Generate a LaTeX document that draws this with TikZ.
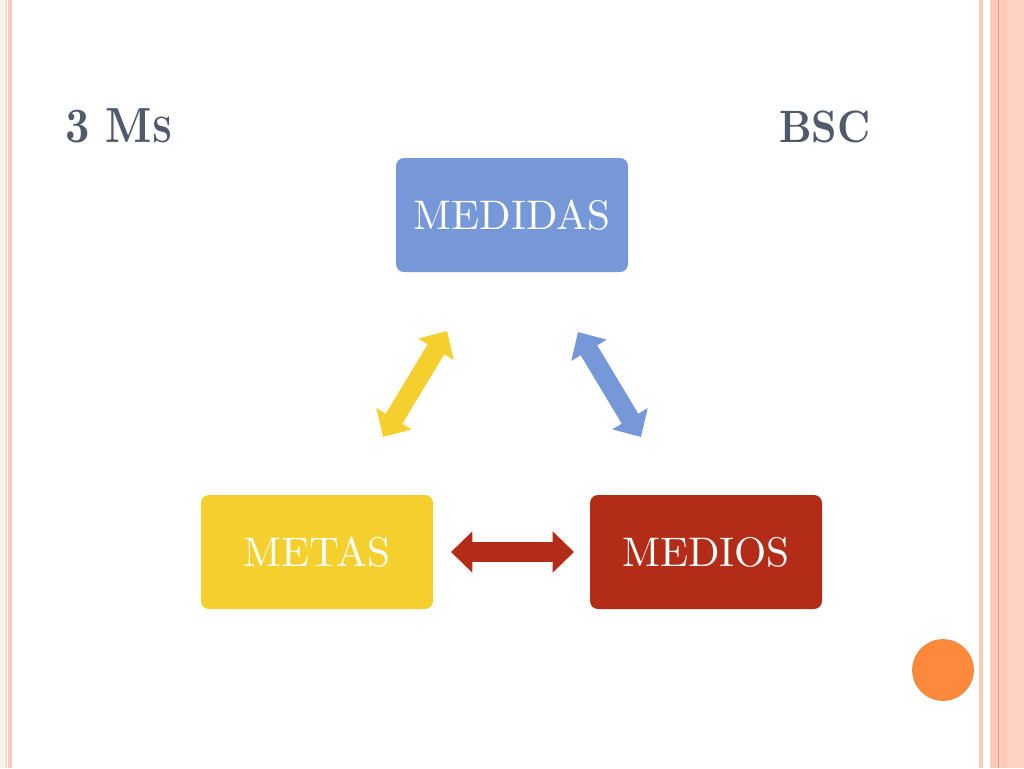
\documentclass[tikz,border=0pt]{standalone}
\usepackage{fontspec}
\setmainfont{lmroman10-regular.otf}[BoldFont=lmroman10-bold.otf]
\usetikzlibrary{arrows.meta}
\definecolor{cblue}{HTML}{7698D8}
\definecolor{cyellow}{HTML}{F4CF2E}
\definecolor{cred}{HTML}{B32C17}
\definecolor{ctitle}{HTML}{505A6B}
\definecolor{corange}{HTML}{FD8A3B}
\definecolor{corangeb}{HTML}{EE8A45}
\definecolor{salmon}{HTML}{FCCAB8}
\definecolor{salmonl}{HTML}{FED2C2}
\definecolor{salmond}{HTML}{EC9E82}
\definecolor{beige}{HTML}{F6DDCF}
\begin{document}
\begin{tikzpicture}[x=0.75pt,y=-0.75pt,
  box/.style={rounded corners=6pt, minimum width=174pt, minimum height=85.5pt, inner sep=0pt,
    text=white, font=\fontsize{31}{36}\selectfont},
  dbl/.style={line width=14.5pt, {Triangle[length=16pt,width=30pt]}-{Triangle[length=16pt,width=30pt]}},
  title/.style={anchor=base west, inner sep=0pt, text=ctitle}]
\useasboundingbox (0,0) rectangle (1024,768);
\fill[white] (0,0) rectangle (1024,768);
% left border
\fill[beige!40] (0,0) rectangle (4,768);
\fill[beige] (4.5,0) rectangle (7,768);
\fill[salmon] (8,0) rectangle (12,768);
% right border
\fill[salmon] (979,0) rectangle (983,768);
\fill[salmonl] (990,0) rectangle (1024,768);
\fill[salmon] (990,0) rectangle (1007,768);
\fill[salmond] (997.5,0) rectangle (999,768);
% titles
\node[title] (t1) at (65,142) {\scalebox{0.86}[1]{\fontsize{37}{40}\selectfont\bfseries 3 M{\fontsize{27.5}{30}\selectfont S}}};
\node[title] (t2) at (779,142) {\scalebox{0.88}[1]{\fontsize{34}{40}\selectfont\bfseries BSC}};
% boxes
\node[box, fill=cblue] (medidas) at (512,215) {MEDIDAS};
\node[box, fill=cyellow] (metas) at (317,552) {METAS};
\node[box, fill=cred] (medios) at (706,552) {MEDIOS};
% arrow ends
\coordinate (ya) at (383,437);
\coordinate (yb) at (447,331);
\coordinate (ba) at (578,332);
\coordinate (bb) at (641,437);
\coordinate (ra) at (451,552);
\coordinate (rb) at (574,552);
\draw[dbl, cyellow] (ya) -- (yb);
\draw[dbl, cblue] (ba) -- (bb);
\draw[dbl, cred] (ra) -- (rb);
% circle
\node[circle, fill=corange, draw=corangeb, line width=0.8pt, minimum size=45.5pt, inner sep=0pt] (dot) at (943,670) {};
\end{tikzpicture}
\end{document}
